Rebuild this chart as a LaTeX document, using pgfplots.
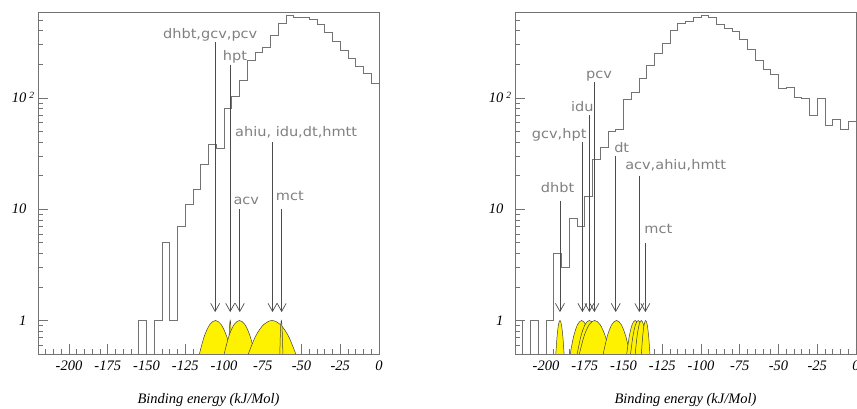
\documentclass[border=0pt]{standalone}
\usepackage{fontspec}
\setmainfont{Liberation Serif}
\newfontfamily\lblfont[FakeStretch=1.1]{DejaVu Sans}
\usepackage{pgfplots}
\pgfplotsset{compat=1.18}
\usetikzlibrary{arrows.meta}

\pgfplotsset{
  binstyle/.style={
    scale only axis, width=341pt, height=342pt,
    xmin=-220, xmax=0, ymin=0.5, ymax=590,
    axis line style={black!55, line width=0.7pt},
    tick style={black!55, line width=0.6pt},
    major tick length=10pt, minor tick length=5pt,
    tick align=inside, tick pos=left,
    xtick={-200,-175,-150,-125,-100,-75,-50,-25,0},
    xticklabels={-200,-175,-150,-125,-100,-75,-50,-25,0},
    minor xtick={-215,-210,...,-5},
    ytick={1,10,100},
    yticklabels={1,10,10\rlap{\smash{\hspace{3pt}\raisebox{4.5pt}{\fontsize{9.5}{10}\selectfont 2}}}},
    minor ytick={0.6,0.7,0.8,0.9,2,3,4,5,6,7,8,9,20,30,40,50,60,70,80,90,200,300,400,500},
    tick label style={font=\fontsize{14.5}{16}\selectfont\itshape},
    xticklabel style={yshift=-3pt},
    yticklabel style={xshift=-8pt},
    xlabel={Binding energy (kJ/Mol)},
    x label style={at={(axis description cs:0.5,-0.1462)}, anchor=base, inner sep=0pt, font=\fontsize{14.5}{16}\selectfont\itshape},
  },
  hist/.style={const plot, black!55, line width=0.8pt, no markers},
  bump/.style={smooth, fill=yellow, draw=black!75, line width=0.5pt, no markers},
}
\tikzset{
  arr/.style={black!70, line width=0.7pt, -{Straight Barb[length=8pt,width=9pt]}},
  lbl/.style={anchor=base west, inner sep=0pt, text=black!50, font=\lblfont\fontsize{13.2}{14}\selectfont},
}

\begin{document}
\begin{tikzpicture}
% ---------------- left panel ----------------
\begin{axis}[ymode=log, binstyle, at={(38pt,55pt)}, anchor=south west]
\addplot[hist] coordinates {
(-160,0.1)(-155,1)(-150,0.1)(-145,1)(-140,5)(-135,1)(-130,7)(-125,11)(-120,15)(-115,25)
(-110,38)(-105,35)(-100,80)(-95,104)(-90,142)(-85,218)(-80,258)(-75,281)(-70,360)(-65,470)
(-60,555)(-55,530)(-50,525)(-45,503)(-40,454)(-35,390)(-30,322)(-25,267)(-20,225)(-15,193)
(-10,164)(-5,136)(0,136)};
\addplot[bump] coordinates {(-117.05,0.432)(-112.85,0.712)(-109.18,0.919)(-105.5,1)(-101.83,0.919)(-98.15,0.712)(-93.95,0.432)};
\addplot[bump] coordinates {(-97.1,0.432)(-96.7,0.712)(-96.35,0.919)(-96,1)(-95.65,0.919)(-95.3,0.712)(-94.9,0.432)};
\addplot[bump] coordinates {(-101,0.432)(-97,0.712)(-93.5,0.919)(-90,1)(-86.5,0.919)(-83,0.712)(-79,0.432)};
\addplot[bump] coordinates {(-86.05,0.432)(-79.85,0.712)(-74.43,0.919)(-69,1)(-63.58,0.919)(-58.15,0.712)(-51.95,0.432)};
\addplot[bump] coordinates {(-64.1,0.432)(-63.7,0.712)(-63.35,0.919)(-63,1)(-62.65,0.919)(-62.3,0.712)(-61.9,0.432)};
\draw[arr] (axis cs:-105.7,318) -- (axis cs:-105.7,1.19);
\draw[arr] (axis cs:-96,198) -- (axis cs:-96,1.19);
\draw[arr] (axis cs:-89.8,10) -- (axis cs:-89.8,1.19);
\draw[arr] (axis cs:-68.7,40) -- (axis cs:-68.7,1.19);
\draw[arr] (axis cs:-62.8,10) -- (axis cs:-62.8,1.19);
\node[lbl] at (axis cs:-139.4,344) {dhbt,gcv,pcv};
\node[lbl] at (axis cs:-100.8,215) {hpt};
\node[lbl] at (axis cs:-92.9,45.2) {ahiu, idu,dt,hmtt};
\node[lbl] at (axis cs:-94,10.9) {acv};
\node[lbl] at (axis cs:-66.6,11.9) {mct};
\end{axis}
% ---------------- right panel ----------------
\begin{axis}[ymode=log, binstyle, at={(515pt,55pt)}, anchor=south west]
\addplot[hist] coordinates {
(-220,1)(-215,0.1)(-210,1)(-205,0.1)(-200,1)(-195,4)(-190,3)(-185,8.2)(-180,7)(-175,13)
(-170,28)(-165,36)(-160,50)(-155,52)(-150,97)(-145,112)(-140,150)(-135,195)(-130,252)(-125,311)
(-120,404)(-115,464)(-110,487)(-105,530)(-100,545)(-95,530)(-90,460)(-85,420)(-80,395)(-75,338)
(-70,272)(-65,217)(-60,180)(-55,161)(-50,121)(-45,124)(-40,101)(-35,98)(-30,70)(-25,99)
(-20,56)(-15,64)(-10,52)(-5,61)(0,61)};
\addplot[bump] coordinates {(-193.97,0.432)(-192.89,0.712)(-191.95,0.919)(-191,1)(-190.06,0.919)(-189.11,0.712)(-188.03,0.432)};
\addplot[bump] coordinates {(-185.25,0.432)(-182.25,0.712)(-179.63,0.919)(-177,1)(-174.38,0.919)(-171.75,0.712)(-168.75,0.432)};
\addplot[bump] coordinates {(-180.8,0.432)(-177.6,0.712)(-174.8,0.919)(-172,1)(-169.2,0.919)(-166.4,0.712)(-163.2,0.432)};
\addplot[bump] coordinates {(-179.6,0.432)(-175.6,0.712)(-172.1,0.919)(-168.6,1)(-165.1,0.919)(-161.6,0.712)(-157.6,0.432)};
\addplot[bump] coordinates {(-164.07,0.432)(-160.59,0.712)(-157.55,0.919)(-154.5,1)(-151.46,0.919)(-148.41,0.712)(-144.93,0.432)};
\addplot[bump] coordinates {(-148.55,0.432)(-146.35,0.712)(-144.43,0.919)(-142.5,1)(-140.58,0.919)(-138.65,0.712)(-136.45,0.432)};
\addplot[bump] coordinates {(-146,0.432)(-144,0.712)(-142.25,0.919)(-140.5,1)(-138.75,0.919)(-137,0.712)(-135,0.432)};
\addplot[bump] coordinates {(-142.9,0.432)(-141.3,0.712)(-139.9,0.919)(-138.5,1)(-137.1,0.919)(-135.7,0.712)(-134.1,0.432)};
\addplot[bump] coordinates {(-138.78,0.432)(-137.66,0.712)(-136.68,0.919)(-135.7,1)(-134.72,0.919)(-133.74,0.712)(-132.62,0.432)};
\draw[arr] (axis cs:-191,11.9) -- (axis cs:-191,1.19);
\draw[arr] (axis cs:-176.5,39.8) -- (axis cs:-176.5,1.19);
\draw[arr] (axis cs:-172,70) -- (axis cs:-172,1.19);
\draw[arr] (axis cs:-168.8,140) -- (axis cs:-168.8,1.19);
\draw[arr] (axis cs:-155,30) -- (axis cs:-155,1.19);
\draw[arr] (axis cs:-139.8,20) -- (axis cs:-139.8,1.19);
\draw[arr] (axis cs:-135.9,5) -- (axis cs:-135.9,1.19);
\node[lbl] at (axis cs:-203.4,14.1) {dhbt};
\node[lbl] at (axis cs:-209.2,43.4) {gcv,hpt};
\node[lbl] at (axis cs:-184,75.3) {idu};
\node[lbl] at (axis cs:-174.2,148) {pcv};
\node[lbl] at (axis cs:-156.1,32.4) {dt};
\node[lbl] at (axis cs:-149,22.6) {acv,ahiu,hmtt};
\node[lbl] at (axis cs:-136.6,6.04) {mct};
\end{axis}
\pgfresetboundingbox
\path[use as bounding box] (0pt,0pt) rectangle (857pt,409pt);
\end{tikzpicture}
\end{document}
